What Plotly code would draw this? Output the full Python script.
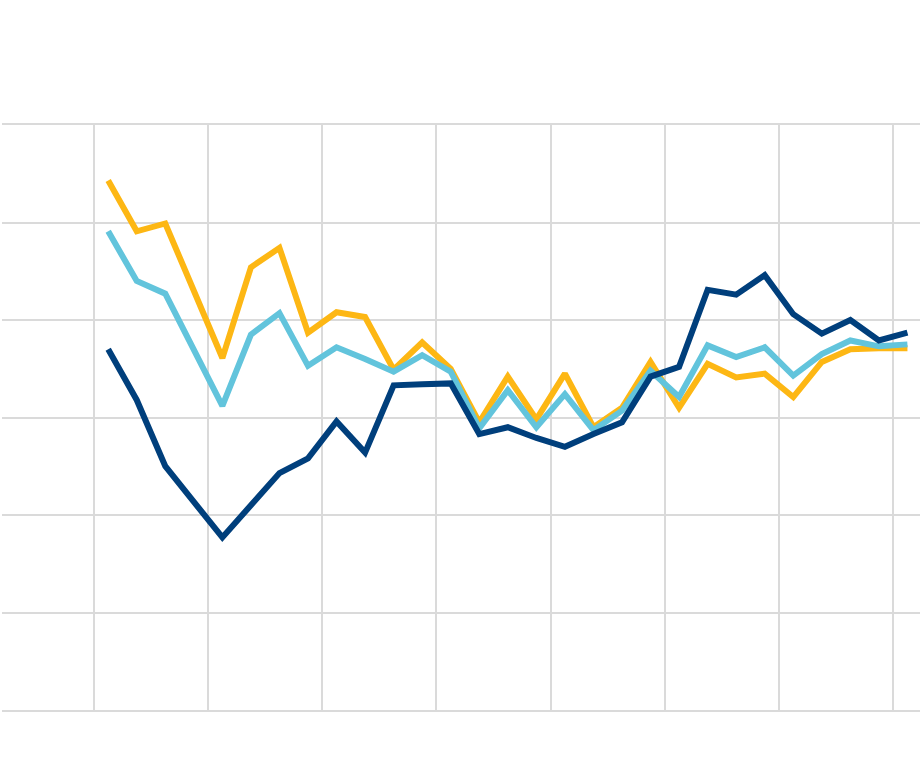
import plotly.graph_objects as go

quarters = list(range(29))

series_navy = [3.70, 3.18, 2.50, 2.13, 1.77, 2.10, 2.43, 2.58, 2.96, 2.64, 3.33, 3.34, 3.35,
               2.83, 2.90, 2.79, 2.70, 2.83, 2.95, 3.42, 3.52, 4.31, 4.26, 4.46, 4.06, 3.86,
               4.00, 3.79, 3.87]
series_gold = [5.43, 4.91, 4.99, 4.31, 3.61, 4.54, 4.74, 3.87, 4.08, 4.03, 3.49, 3.77, 3.50,
               2.95, 3.42, 2.98, 3.45, 2.90, 3.10, 3.57, 3.10, 3.55, 3.41, 3.45, 3.21, 3.57,
               3.70, 3.71, 3.71]
series_light = [4.91, 4.40, 4.27, 3.69, 3.12, 3.85, 4.07, 3.53, 3.72, 3.60, 3.47, 3.64, 3.47,
                2.89, 3.28, 2.90, 3.24, 2.87, 3.07, 3.48, 3.21, 3.74, 3.62, 3.72, 3.43, 3.65,
                3.79, 3.73, 3.75]

GRID = "#dadada"

fig = go.Figure()
for vals, color in [(series_gold, "#fdb714"), (series_light, "#62c4dc"), (series_navy, "#003f7c")]:
    fig.add_trace(go.Scatter(x=quarters, y=vals, mode="lines",
                             line=dict(color=color, width=6), hoverinfo="skip"))

fig.update_layout(
    width=920, height=762,
    margin=dict(l=2, r=0, t=125, b=52),
    paper_bgcolor="white", plot_bgcolor="white",
    showlegend=False,
    xaxis=dict(range=[-3.72, 28.44], tick0=-0.5, dtick=4, tickmode="linear",
               showgrid=True, gridcolor=GRID, gridwidth=2,
               showline=True, mirror=True, linecolor=GRID, linewidth=2,
               zeroline=False, showticklabels=False, ticks=""),
    yaxis=dict(range=[0, 6], tick0=0, dtick=1, tickmode="linear",
               showgrid=True, gridcolor=GRID, gridwidth=2,
               showline=False, zeroline=False, showticklabels=False, ticks=""),
)

fig.write_html("out.html", config={"displayModeBar": False},
               post_script="document.body.style.margin='0';document.body.style.overflow='hidden';")
